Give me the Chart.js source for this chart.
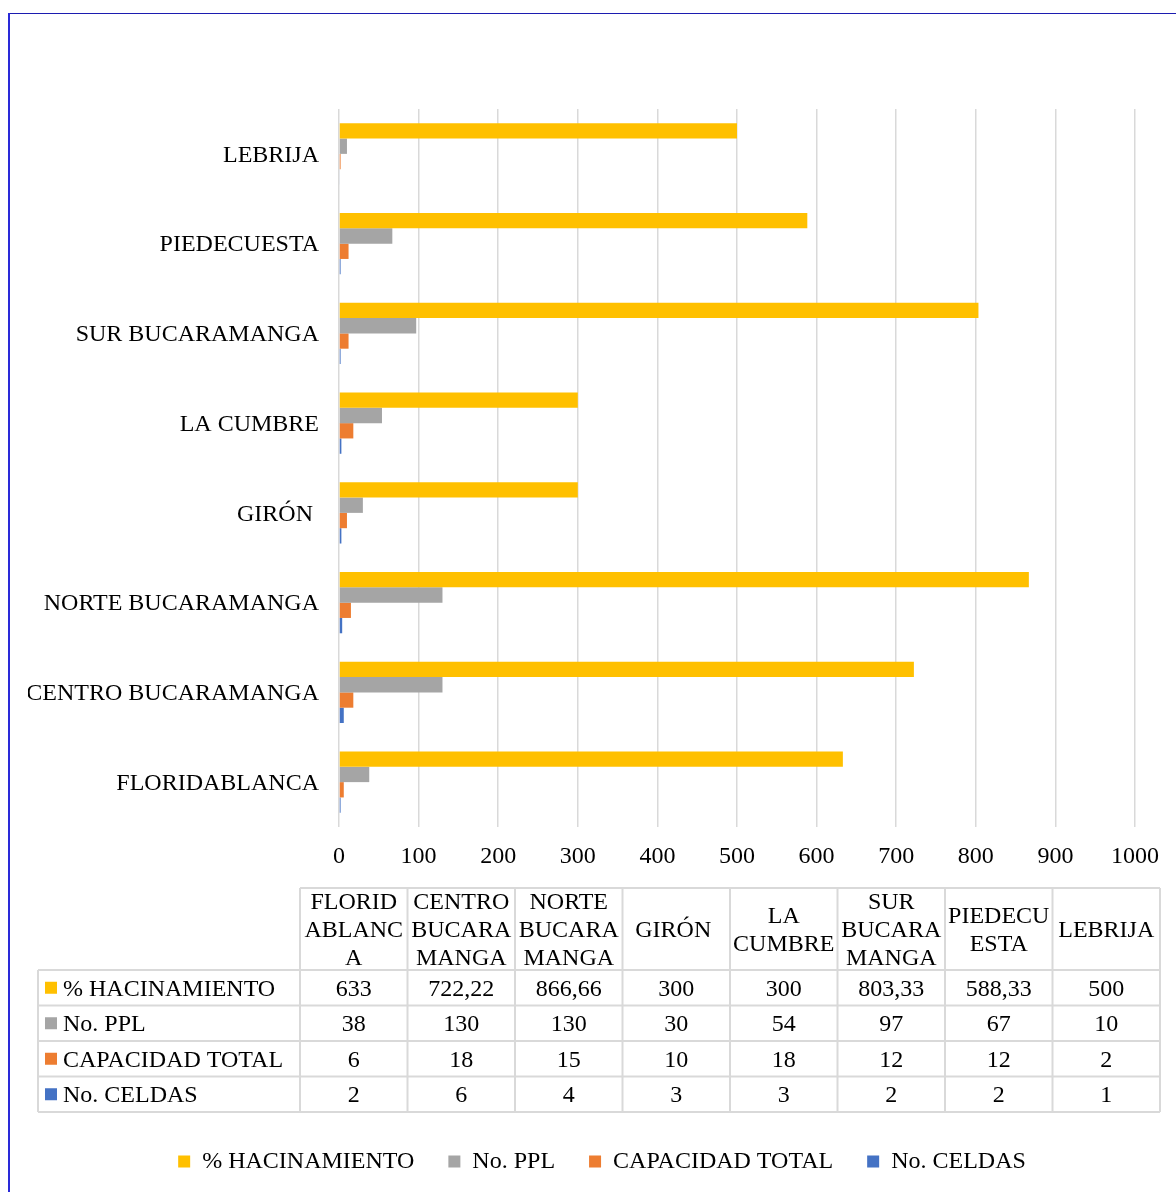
<!DOCTYPE html>
<html><head><meta charset="utf-8">
<script src="https://cdn.jsdelivr.net/npm/chart.js@4.4.0/dist/chart.umd.min.js"></script>
<style>html,body{margin:0;padding:0;background:#fff}#wrap{width:1176px;height:1192px;position:relative}canvas{display:block}</style>
</head><body><div id="wrap"><canvas id="c" width="1176" height="1192"></canvas></div>
<script>
const categories = ['FLORIDABLANCA','CENTRO BUCARAMANGA','NORTE BUCARAMANGA','GIRÓN ','LA CUMBRE','SUR BUCARAMANGA','PIEDECUESTA','LEBRIJA'];
const seriesNames = ['% HACINAMIENTO','No. PPL','CAPACIDAD TOTAL','No. CELDAS'];
const hacinamiento = [633, 722.22, 866.66, 300, 300, 803.33, 588.33, 500];
const ppl = [38, 130, 130, 30, 54, 97, 67, 10];
const capacidad = [6, 18, 15, 10, 18, 12, 12, 2];
const celdas = [2, 6, 4, 3, 3, 2, 2, 1];
const xMin = 0, xMax = 1000, xStep = 100;
const colors = ['#FFC000', '#A5A5A5', '#ED7D31', '#4472C4'];

const FAMILY = '"Liberation Serif", "Times New Roman", serif';
const FS = 24;
const seriesValues = [hacinamiento, ppl, capacidad, celdas];

function fmt(v){ return String(v).replace('.', ','); }

function wrapText(ctx, text, maxW){
  const words = text.split(' ');
  const lines = [];
  let cur = '';
  const pushWord = (w) => {
    let piece = '';
    for (const ch of w){
      if (ctx.measureText(piece + ch).width > maxW && piece){ lines.push(piece); piece = ch; }
      else piece += ch;
    }
    return piece;
  };
  for (const w of words){
    const test = cur ? cur + ' ' + w : w;
    if (ctx.measureText(test).width <= maxW){ cur = test; continue; }
    if (cur){ lines.push(cur); cur = ''; }
    if (ctx.measureText(w).width <= maxW) cur = w;
    else cur = pushWord(w);
  }
  if (cur) lines.push(cur);
  return lines;
}

const framePlugin = {
  id: 'frame',
  beforeDraw(chart){
    const ctx = chart.ctx;
    ctx.save();
    ctx.fillStyle = '#fff';
    ctx.fillRect(0, 0, chart.width, chart.height);
    ctx.strokeStyle = '#1c1cb0';
    ctx.lineWidth = 1;
    ctx.beginPath(); ctx.moveTo(8, 13.5); ctx.lineTo(chart.width, 13.5); ctx.stroke();
    ctx.strokeStyle = '#2a2ad8';
    ctx.lineWidth = 2;
    ctx.beginPath(); ctx.moveTo(9, 13); ctx.lineTo(9, chart.height); ctx.stroke();
    ctx.restore();
  }
};

const tablePlugin = {
  id: 'dataTable',
  afterDraw(chart){
    const ctx = chart.ctx;
    const n = categories.length;
    const left0 = 38, colStart = 300, colW = 107.5;
    const right = colStart + colW * n;
    const headTop = 888, headBot = 970, rowH = 35.5;
    const nRows = seriesValues.length;
    const bottom = headBot + rowH * nRows;
    const dy = 1.5;
    ctx.save();
    ctx.strokeStyle = '#d9d9d9';
    ctx.lineWidth = 2;
    ctx.beginPath();
    ctx.moveTo(colStart, headTop); ctx.lineTo(right, headTop);
    for (let i = 0; i <= nRows; i++){
      const y = headBot + i * rowH;
      ctx.moveTo(left0, y); ctx.lineTo(right, y);
    }
    ctx.moveTo(left0, headBot); ctx.lineTo(left0, bottom);
    for (let j = 0; j <= n; j++){
      const x = colStart + j * colW;
      ctx.moveTo(x, headTop); ctx.lineTo(x, bottom);
    }
    ctx.stroke();

    ctx.font = FS + 'px ' + FAMILY;
    ctx.fillStyle = '#000';
    ctx.textBaseline = 'middle';
    ctx.textAlign = 'center';
    const headMid = (headTop + headBot) / 2;
    const lh = 28;
    categories.forEach((c, j) => {
      const lines = wrapText(ctx, c, 102.5);
      const cx = colStart + j * colW + colW / 2;
      lines.forEach((ln, k) => {
        ctx.fillText(ln, cx, headMid + dy + (k - (lines.length - 1) / 2) * lh);
      });
    });
    seriesValues.forEach((vals, i) => {
      const cy = headBot + i * rowH + rowH / 2;
      ctx.textAlign = 'left';
      ctx.fillStyle = colors[i];
      ctx.fillRect(45, cy - 6, 12, 12);
      ctx.fillStyle = '#000';
      ctx.fillText(seriesNames[i], 63, cy + dy);
      ctx.textAlign = 'center';
      vals.forEach((v, j) => {
        ctx.fillText(fmt(v), colStart + j * colW + colW / 2, cy + dy);
      });
    });
    ctx.restore();
  }
};

const tickFont = { family: FAMILY, size: FS };

new Chart(document.getElementById('c'), {
  type: 'bar',
  data: {
    labels: categories,
    datasets: seriesValues.map((vals, i) => ({
      label: seriesNames[i],
      data: vals,
      backgroundColor: colors[i],
      borderWidth: 0,
      categoryPercentage: 0.683,
      barPercentage: 1
    }))
  },
  options: {
    indexAxis: 'y',
    responsive: false,
    animation: false,
    devicePixelRatio: 1,
    layout: { padding: { top: 109, left: 28, right: 0, bottom: 8.5 } },
    scales: {
      x: {
        min: xMin, max: xMax,
        ticks: { stepSize: xStep, font: tickFont, color: '#000', padding: 15, maxRotation: 0, autoSkip: false,
                 callback: (v) => String(v) },
        grid: { color: '#d9d9d9', lineWidth: 1.5, drawTicks: false },
        border: { display: false },
        afterFit(s){ s.paddingRight = 41; s.height = 288.5; }
      },
      y: {
        reverse: true,
        ticks: { font: tickFont, color: '#000', padding: 20, autoSkip: false, labelOffset: 1.5 },
        grid: { display: false, drawTicks: false },
        border: { display: false },
        afterFit(s){ s.width = 311; }
      }
    },
    plugins: {
      tooltip: { enabled: false },
      legend: {
        position: 'bottom',
        labels: { font: tickFont, color: '#000', boxWidth: 12, boxHeight: 12, padding: 34 }
      }
    }
  },
  plugins: [framePlugin, tablePlugin]
});
</script>
</body></html>
